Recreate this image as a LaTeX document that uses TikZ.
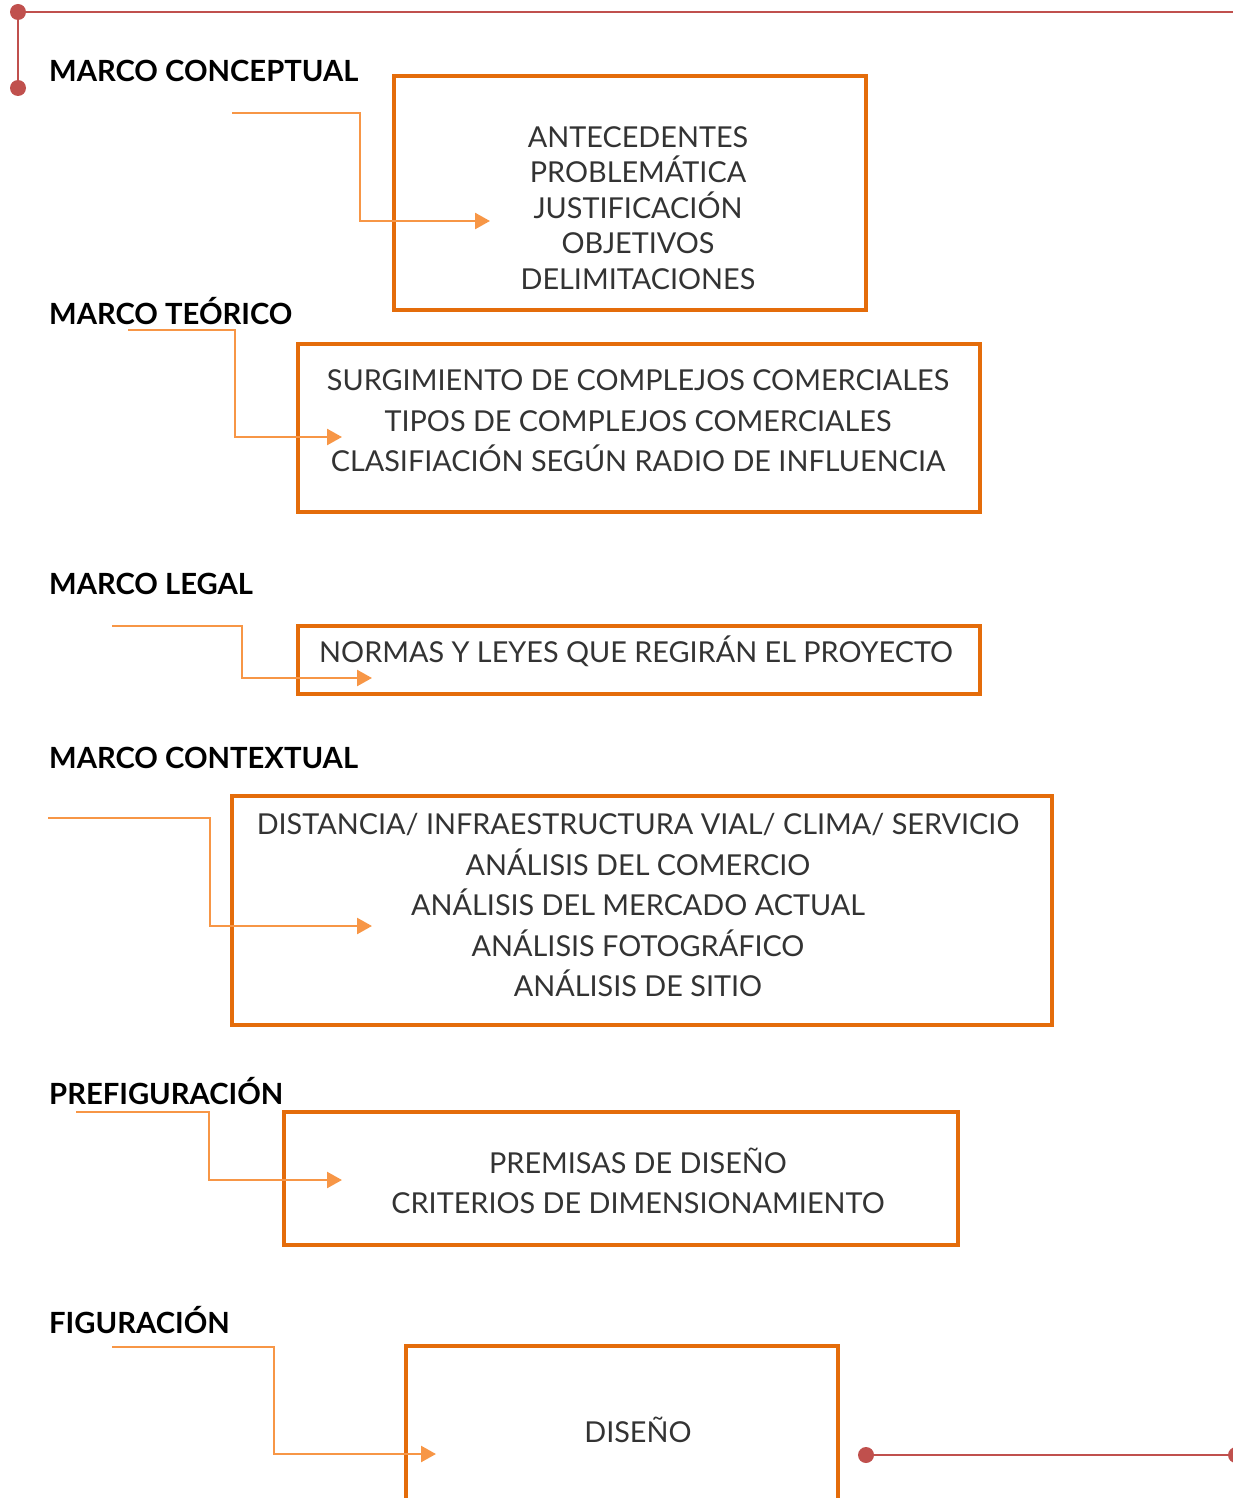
\documentclass[tikz,border=0pt]{standalone}
\usepackage{fontspec}
\setmainfont{Lato}
\usepackage{tikz}
\usetikzlibrary{arrows.meta}
\definecolor{rojo}{HTML}{C0504D}
\definecolor{naranja}{HTML}{E46C0A}
\definecolor{flecha}{HTML}{F79646}
\tikzset{
  marco/.style={anchor=base west, font=\bfseries\fontsize{29.2}{32}\selectfont, text=black, inner sep=0pt},
  caja/.style={draw=naranja, line width=4pt, rectangle, inner sep=0pt},
  texto/.style={align=center, text=black!80, font=\fontsize{28.8}{40.5}\selectfont},
  enlace/.style={draw=flecha, line width=2.5pt, -{Triangle[length=15pt,width=16pt]}},
  linea/.style={draw=rojo, line width=2.5pt},
  punto/.style={circle, fill=rojo, minimum size=16pt, inner sep=0pt}
}
\begin{document}
\begin{tikzpicture}[x=1pt,y=-1pt]
\useasboundingbox (0,0) rectangle (1232,1498);
% linea superior
\node[punto] (p1) at (18,12) {};
\node[punto] (p2) at (18,88) {};
\coordinate (p3) at (1240,12);
\draw[linea] (p2) -- (p1) -- (p3);
% marco conceptual
\node[marco] (m1) at (49,82) {MARCO CONCEPTUAL};
\node[caja, minimum width=472, minimum height=234] (b1) at (630,193) {};
\node[texto, font=\fontsize{28.8}{35.5}\selectfont] (t1) at (638,208) {ANTECEDENTES\\PROBLEMÁTICA\\JUSTIFICACIÓN\\OBJETIVOS\\DELIMITACIONES};
\coordinate (a1) at (232,113);
\coordinate (e1) at (490,221);
\draw[enlace] (a1) -| (360,221) -- (e1);
% marco teorico
\node[marco] (m2) at (49,324) {MARCO TEÓRICO};
\node[caja, minimum width=682, minimum height=168] (b2) at (639,428) {};
\node[texto] (t2) at (638,421) {SURGIMIENTO DE COMPLEJOS COMERCIALES\\TIPOS DE COMPLEJOS COMERCIALES\\CLASIFIACIÓN SEGÚN RADIO DE INFLUENCIA};
\coordinate (a2) at (128,330);
\coordinate (e2) at (342,437);
\draw[enlace] (a2) -| (235,437) -- (e2);
% marco legal
\node[marco] (m3) at (49,594) {MARCO LEGAL};
\node[caja, minimum width=682, minimum height=68] (b3) at (639,660) {};
\node[texto] (t3) at (636,651) {NORMAS Y LEYES QUE REGIRÁN EL PROYECTO};
\coordinate (a3) at (112,626);
\coordinate (e3) at (372,678);
\draw[enlace] (a3) -| (242,678) -- (e3);
% marco contextual
\node[marco] (m4) at (49,768) {MARCO CONTEXTUAL};
\node[caja, minimum width=820, minimum height=229] (b4) at (642,910) {};
\node[texto] (t4) at (638,905) {DISTANCIA/ INFRAESTRUCTURA VIAL/ CLIMA/ SERVICIO\\ANÁLISIS DEL COMERCIO\\ANÁLISIS DEL MERCADO ACTUAL\\ANÁLISIS FOTOGRÁFICO\\ANÁLISIS DE SITIO};
\coordinate (a4) at (48,818);
\coordinate (e4) at (372,926);
\draw[enlace] (a4) -| (210,926) -- (e4);
% prefiguracion
\node[marco] (m5) at (49,1104) {PREFIGURACIÓN};
\node[caja, minimum width=674, minimum height=133] (b5) at (621,1178.5) {};
\node[texto] (t5) at (638,1181) {PREMISAS DE DISEÑO\\CRITERIOS DE DIMENSIONAMIENTO};
\coordinate (a5) at (76,1112);
\coordinate (e5) at (342,1180);
\draw[enlace] (a5) -| (209,1180) -- (e5);
% figuracion
\node[marco] (m6) at (49,1333) {FIGURACIÓN};
\node[caja, minimum width=432, minimum height=200] (b6) at (622,1446) {};
\node[texto] (t6) at (638,1430) {DISEÑO};
\coordinate (a6) at (112,1347);
\coordinate (e6) at (436,1454);
\draw[enlace] (a6) -| (274,1454) -- (e6);
% linea inferior
\node[punto] (p4) at (866,1455) {};
\node[punto] (p5) at (1236,1455) {};
\draw[linea] (p4) -- (p5);
\end{tikzpicture}
\end{document}
